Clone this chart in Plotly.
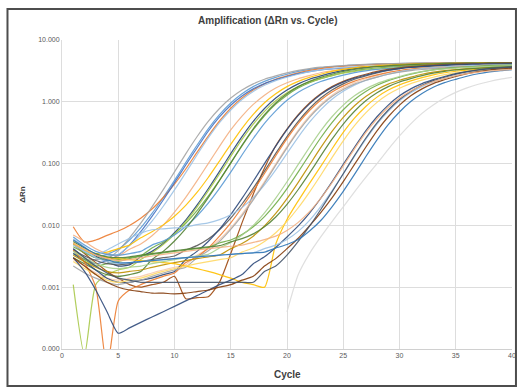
import plotly.graph_objects as go

cycles = list(range(1, 41))

# Delta Rn per well (cycle 1..40)
A1 = [.0050,.0038,.0030,.0034,.0041,.0058,.0091,.0156,.0283,.0535, .104,.198,.366,.620,.958,1.35,1.76,2.14,2.48,2.79, 3.10,3.35,3.55,3.70,3.82,3.92,4.00,4.07,4.12,4.16, 4.19,4.21,4.23,4.25,4.26,4.27,4.28,4.29,4.30,4.30]
A2 = [.0095,.0054,.0058,.0069,.0081,.0100,.0131,.0184,.0283,.0465, .0818,.152,.279,.489,.786,1.15,1.55,1.95,2.32,2.63, 2.94,3.23,3.45,3.63,3.76,3.87,3.96,4.04,4.10,4.14, 4.18,4.20,4.22,4.24,4.255,4.265,4.275,4.285,4.295,4.30]
A3 = [.0042,.0030,.0024,.0027,.0033,.0048,.0079,.0140,.0258,.0491, .095,.179,.334,.568,.879,1.24,1.62,1.97,2.28,2.57, 2.85,3.08,3.27,3.40,3.51,3.61,3.68,3.74,3.79,3.83, 3.85,3.87,3.89,3.91,3.92,3.93,3.94,3.95,3.96,3.96]
A4 = [.0060,.0045,.0032,.0032,.0034,.0047,.0072,.0117,.0204,.0375, .0713,.138,.260,.459,.737,1.09,1.47,1.85,2.20,2.50, 2.79,3.07,3.28,3.45,3.57,3.68,3.76,3.84,3.90,3.93, 3.97,3.99,4.01,4.03,4.04,4.05,4.06,4.07,4.08,4.09]
A5 = [.0070,.0055,.0042,.0035,.0032,.0041,.0050,.0068,.0101,.0164, .0285,.0526,.100,.190,.350,.586,.907,1.28,1.67,2.03, 2.36,2.65,2.95,3.18,3.37,3.52,3.63,3.72,3.80,3.87, 3.91,3.95,3.98,4.00,4.02,4.04,4.05,4.06,4.07,4.08]
A6 = [.0038,.0028,.0028,.0029,.0039,.0063,.0109,.0200,.0379,.0733, .144,.272,.482,.780,1.15,1.55,1.95,2.32,2.63,2.94, 3.23,3.45,3.63,3.76,3.87,3.96,4.04,4.10,4.14,4.18, 4.20,4.22,4.24,4.255,4.265,4.275,4.285,4.295,4.30,4.30]
B1 = [.0050,.0040,.0032,.0026,.0022,.0023,.0031,.0038,.0051,.0076, .0122,.0213,.0392,.0748,.145,.273,.483,.780,1.15,1.55, 1.95,2.32,2.63,2.94,3.23,3.45,3.63,3.76,3.87,3.96, 4.04,4.10,4.14,4.18,4.20,4.22,4.24,4.255,4.265,4.275]
B2 = [.0035,.0028,.0022,.0024,.0026,.0029,.0032,.0043,.0054,.0073, .0108,.0173,.0297,.0541,.102,.193,.353,.594,.915,1.28, 1.67,2.03,2.36,2.65,2.95,3.18,3.37,3.52,3.63,3.72, 3.80,3.87,3.91,3.95,3.98,4.00,4.02,4.04,4.05,4.06]
B3 = [.0011,.00008,.0011,.0016,.0019,.0021,.0028,.0036,.0049,.0072, .0115,.0198,.0361,.0681,.131,.246,.435,.702,1.04,1.40, 1.76,2.09,2.37,2.65,2.91,3.11,3.27,3.38,3.48,3.56, 3.64,3.69,3.73,3.76,3.78,3.80,3.82,3.83,3.84,3.85]
B4 = [.0052,.0040,.0035,.0037,.0042,.0048,.0063,.0079,.0102,.0141, .0211,.0341,.0596,.110,.205,.373,.627,.965,1.35,1.76, 2.14,2.48,2.79,3.10,3.35,3.55,3.70,3.82,3.92,4.00, 4.07,4.12,4.16,4.19,4.21,4.23,4.25,4.26,4.27,4.28]
B5 = [.0065,.0048,.0038,.0034,.0033,.0035,.0038,.0048,.0056,.0070, .0096,.0142,.0229,.0397,.0726,.138,.255,.449,.714,1.06, 1.43,1.79,2.13,2.42,2.70,2.97,3.17,3.34,3.46,3.56, 3.64,3.72,3.77,3.81,3.85,3.86,3.88,3.90,3.91,3.92]
B6 = [.0030,.0024,.0019,.0016,.0015,.0016,.0018,.0028,.0038,.0056, .0089,.0154,.0281,.0533,.103,.198,.366,.620,.958,1.35, 1.76,2.14,2.48,2.79,3.10,3.35,3.55,3.70,3.82,3.92, 4.00,4.07,4.12,4.16,4.19,4.21,4.23,4.25,4.26,4.27]
C1 = [.0050,.0035,.0025,.0018,.0014,.0011,.0010,.0011,.0012,.0015, .00065,.00068,.0007,.0012,.0035,.0110,.0320,.0850,.195,.363, .617,.955,1.35,1.76,2.14,2.48,2.79,3.10,3.35,3.55, 3.70,3.82,3.92,4.00,4.07,4.12,4.16,4.19,4.21,4.23]
C2 = [.0040,.0032,.0027,.0024,.0023,.0024,.0026,.0028,.0030,.0032, .0040,.0047,.0060,.0085,.0131,.0222,.0401,.0756,.146,.274, .484,.780,1.15,1.55,1.95,2.32,2.63,2.94,3.23,3.45, 3.63,3.76,3.87,3.96,4.04,4.10,4.14,4.18,4.20,4.22]
C3 = [.0028,.0022,.0017,.0014,.0013,.0014,.0015,.0017,.0019,.0021, .0023,.0033,.0042,.0059,.0091,.0153,.0273,.0513,.099,.189, .349,.590,.907,1.28,1.67,2.03,2.36,2.65,2.95,3.18, 3.37,3.52,3.63,3.72,3.80,3.87,3.91,3.95,3.98,4.00]
C4 = [.0035,.0026,.0019,.0014,.0012,.0012,.0013,.0014,.0016,.0018, .0028,.0038,.0055,.0087,.0150,.0273,.0518,.100,.192,.355, .601,.926,1.31,1.71,2.08,2.41,2.71,3.01,3.25,3.44, 3.59,3.71,3.80,3.88,3.95,4.00,4.04,4.06,4.08,4.10]
C5 = [.0040,.0025,.0010,.00005,.0006,.0009,.0011,.0013,.0015,.0017, .0025,.0031,.0043,.0067,.0110,.0195,.0361,.0691,.134,.253, .448,.722,1.07,1.44,1.81,2.16,2.45,2.73,3.00,3.21, 3.38,3.50,3.60,3.68,3.76,3.81,3.85,3.89,3.91,3.92]
C6 = [.0050,.0040,.0033,.0040,.0050,.0062,.0075,.0085,.0088,.0091, .0094,.0103,.0110,.0124,.0149,.0194,.0281,.0452,.0791,.146, .268,.467,.749,1.10,1.48,1.86,2.21,2.51,2.80,3.08, 3.29,3.46,3.58,3.69,3.77,3.85,3.90,3.94,3.98,3.99]
C7 = [.0022,.0017,.0014,.0012,.0011,.0012,.0013,.0015,.0017,.0019, .0021,.0030,.0039,.0055,.0086,.0144,.0259,.0486,.094,.180, .331,.559,.863,1.22,1.58,1.93,2.23,2.51,2.79,3.02, 3.20,3.33,3.44,3.53,3.60,3.66,3.71,3.74,3.77,3.79]
D1 = [.0045,.0036,.0030,.0028,.0028,.0030,.0032,.0034,.0036,.0038, .0040,.0042,.0044,.0052,.0058,.0071,.0095,.0139,.0225,.0395, .0733,.140,.262,.461,.743,1.09,1.47,1.85,2.20,2.50, 2.79,3.07,3.28,3.45,3.57,3.68,3.76,3.84,3.90,3.93]
D2 = [.0033,.0026,.0021,.0018,.0017,.0018,.0019,.0021,.0023,.0025, .0027,.0029,.0031,.0033,.0042,.0051,.0067,.0098,.0156,.0271, .0498,.095,.181,.332,.560,.864,1.22,1.58,1.93,2.23, 2.51,2.79,3.02,3.20,3.33,3.44,3.53,3.60,3.66,3.71]
D3 = [.0050,.0040,.0033,.0030,.0029,.0028,.0027,.0026,.0025,.0024, .0022,.0020,.0018,.0016,.0014,.0012,.0011,.0010,.0050,.0125, .0250,.0480,.090,.172,.319,.543,.840,1.19,1.55,1.88, 2.18,2.46,2.73,2.95,3.12,3.26,3.36,3.45,3.52,3.58]
D4 = [.0038,.0030,.0024,.0021,.0020,.0021,.0022,.0024,.0026,.0028, .0030,.0032,.0034,.0043,.0053,.0069,.0100,.0160,.0277,.0509, .097,.184,.339,.573,.884,1.25,1.62,1.97,2.28,2.57, 2.85,3.08,3.27,3.40,3.51,3.61,3.68,3.74,3.79,3.83]
D5 = [.0055,.0043,.0035,.0031,.0030,.0031,.0033,.0035,.0037,.0039, .0041,.0043,.0045,.0047,.0054,.0061,.0073,.0095,.0137,.0219, .0381,.0700,.133,.248,.437,.704,1.04,1.40,1.76,2.09, 2.37,2.65,2.91,3.11,3.27,3.38,3.48,3.56,3.64,3.69]
D6 = [.0026,.0020,.0016,.0013,.0012,.0013,.0014,.0016,.0018,.0020, .0022,.0024,.0026,.0028,.0030,.0037,.0043,.0055,.0076,.0116, .0193,.0346,.0648,.125,.234,.412,.660,.978,1.32,1.66, 1.97,2.24,2.50,2.75,2.93,3.09,3.20,3.29,3.37,3.43]
E1 = [.0030,.0018,.0009,.0004,.00018,.00022,.00027,.00033,.0004,.00049, .0006,.00073,.00089,.0011,.0013,.0016,.0024,.0031,.0044,.0065, .0098,.0158,.0275,.0507,.097,.184,.339,.573,.884,1.25, 1.62,1.97,2.28,2.57,2.85,3.08,3.27,3.40,3.51,3.61]
E2 = [.0048,.0038,.0030,.0026,.0024,.0025,.0026,.0027,.0028,.0029, .0030,.0031,.0032,.0033,.0034,.0035,.0036,.0042,.0048,.0059, .0080,.0121,.0202,.0363,.0681,.131,.246,.435,.702,1.04, 1.40,1.76,2.09,2.37,2.65,2.91,3.11,3.27,3.38,3.48]
E3 = [.0030,.0022,.0016,.0012,.0010,.0009,.00085,.0008,.0008,.00078, .0008,.00085,.0009,.0010,.0011,.0013,.0015,.0022,.0029,.0042, .0062,.0098,.0161,.0279,.0511,.097,.184,.339,.573,.884, 1.25,1.62,1.97,2.28,2.57,2.85,3.08,3.27,3.40,3.51]
E4 = [.0042,.0030,.0022,.0017,.0014,.0013,.0012,.0012,.0012,.0012, .0012,.0012,.0012,.0012,.0012,.0012,.0012,.0018,.0022,.0033, .0055,.0097,.0181,.0349,.0685,.135,.257,.456,.737,1.09, 1.47,1.85,2.20,2.50,2.79,3.07,3.28,3.45,3.57,3.68]
E5 = [.0058,.0044,.0034,.0028,.0025,.0025,.0026,.0027,.0028,.0029, .0030,.0031,.0032,.0033,.0034,.0035,.0036,.0037,.0043,.0049, .0059,.0081,.0120,.0200,.0356,.0668,.129,.242,.427,.683, 1.01,1.36,1.72,2.04,2.31,2.59,2.84,3.04,3.19,3.31]
E6 = [.0052,.0041,.0033,.0029,.0027,.0028,.0030,.0032,.0034,.0036, .0038,.0040,.0042,.0044,.0046,.0048,.0053,.0059,.0067,.0083, .0112,.0167,.0275,.0490,.0916,.173,.316,.531,.818,1.15, 1.50,1.82,2.11,2.37,2.64,2.85,3.02,3.15,3.25,3.33]
E7 = [None,None,None,None,None,None,None,None,None,None, None,None,None,None,None,None,None,None,None,.0004, .0016,.0035,.0065,.0115,.0200,.0350,.0600,.100,.170,.280, .440,.650,.890,1.15,1.42,1.68,1.92,2.13,2.32,2.48]

y_tick_vals = [0.0001, 0.001, 0.01, 0.1, 1, 10]
y_tick_text = ["0.000", "0.001", "0.010", "0.100", "1.000", "10.000"]
x_tick_vals = [0, 5, 10, 15, 20, 25, 30, 35, 40]

wells = [A1, A2, A3, A4, A5, A6, B1, B2, B3, B4, B5, B6,
         C1, C2, C3, C4, C5, C6, C7, D1, D2, D3, D4, D5, D6,
         E1, E2, E3, E4, E5, E6, E7]
colors = ["#5B9BD5", "#ED7D31", "#4472C4", "#9DC3E6", "#F4B183", "#A5A5A5",
          "#264478", "#70AD47", "#A9C94B", "#FFC000", "#5B9BD5", "#548235",
          "#9E480E", "#595959", "#F8CBAD", "#2F4B7C", "#ED7D31", "#9DC3E6", "#A5A5A5",
          "#70AD47", "#BF9000", "#FFC000", "#A9D18E", "#548235", "#FFD966",
          "#2F4B7C", "#9DC3E6", "#843C0C", "#44546A", "#2E75B6", "#F4B183", "#DCDCDC"]

fig = go.Figure()
for vals, col in zip(wells, colors):
    fig.add_trace(go.Scatter(x=cycles, y=vals, mode="lines", opacity=0.9,
                             line=dict(color=col, width=1.2, shape="spline", smoothing=0.6),
                             showlegend=False, hoverinfo="skip"))

W, H = 523, 388
L, R, T, B = 62, 7, 40, 39
pw, ph = W - L - R, H - T - B

def px_x(p):
    return (p - L) / pw

def px_y(p):
    return (H - B - p) / ph

fig.update_layout(
    width=W, height=H,
    margin=dict(l=L, r=R, t=T, b=B),
    paper_bgcolor="white", plot_bgcolor="white",
    font=dict(family="Liberation Sans, Arial, sans-serif", color="#595959"),
    title=dict(text="<b>Amplification (ΔRn vs. Cycle)</b>", x=0.512, xref="container",
               xanchor="center", y=1 - 20 / H, yanchor="middle",
               font=dict(size=10, color="#404040")),
    xaxis=dict(range=[0, 40], tickvals=x_tick_vals, showgrid=True, gridcolor="#DDDDDD",
               gridwidth=1, zeroline=False, showline=True, linecolor="#D0D0D0",
               tickfont=dict(size=7, color="#595959"), ticks=""),
    yaxis=dict(type="log", range=[-4, 1], tickvals=y_tick_vals, ticktext=y_tick_text,
               showgrid=True, gridcolor="#DDDDDD", gridwidth=1, zeroline=False,
               showline=True, linecolor="#DDDDDD",
               tickfont=dict(size=7, color="#595959"), ticks=""),
    shapes=[dict(type="rect", xref="paper", yref="paper",
                 x0=px_x(7), x1=px_x(520), y0=px_y(386), y1=px_y(9),
                 line=dict(color="#4D4D4D", width=2), fillcolor="rgba(0,0,0,0)")],
    annotations=[
        dict(text="<b>Cycle</b>", xref="paper", yref="paper", x=0.5, y=px_y(374),
             xanchor="center", yanchor="middle", showarrow=False,
             font=dict(size=10, color="#404040")),
        dict(text="<b>ΔRn</b>", xref="paper", yref="paper", x=px_x(22), y=0.5,
             xanchor="center", yanchor="middle", showarrow=False, textangle=-90,
             font=dict(size=8, color="#404040")),
    ],
)

fig.write_html("out.html")
